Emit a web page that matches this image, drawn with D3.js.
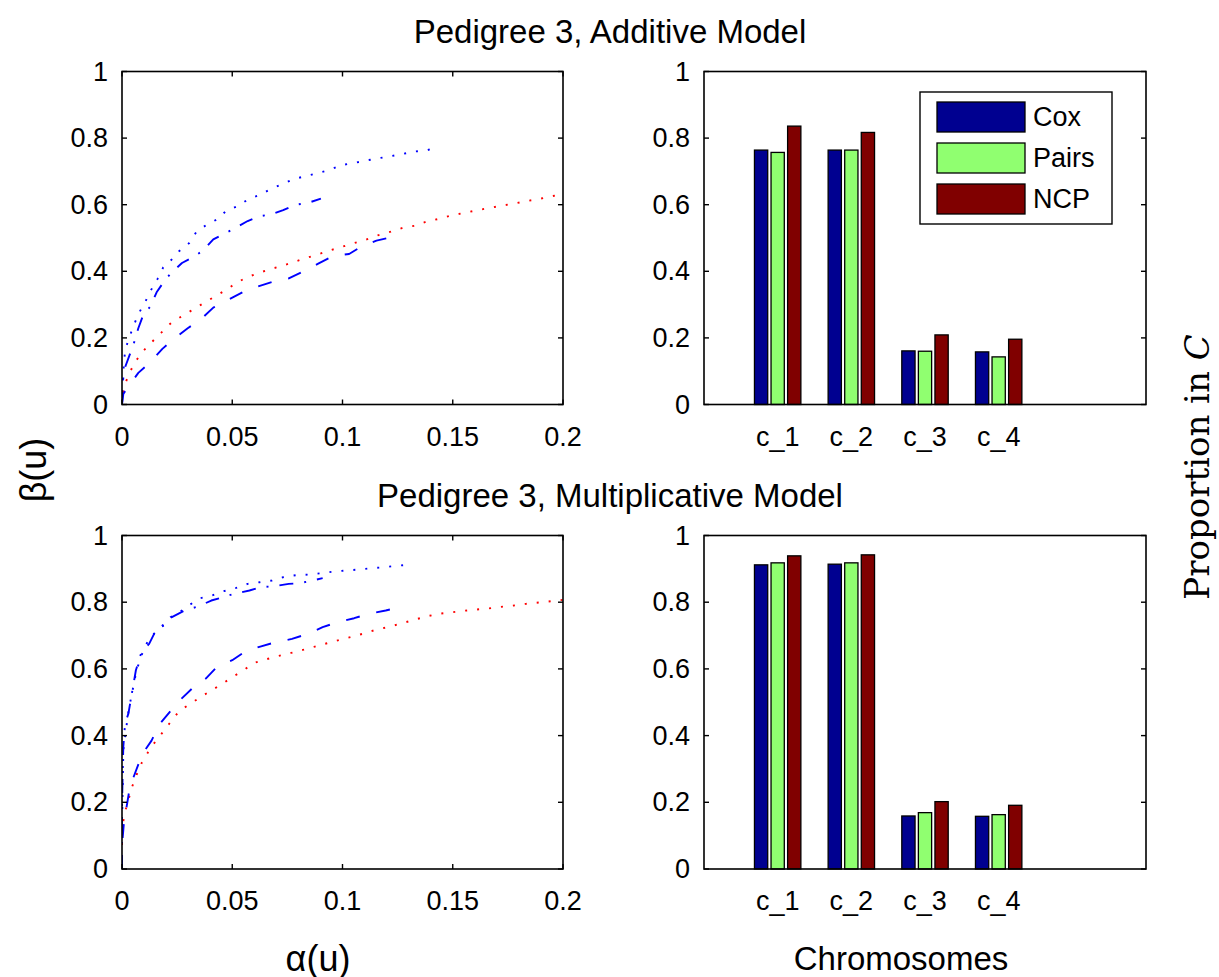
<!DOCTYPE html>
<html>
<head>
<meta charset="utf-8">
<script src="https://cdn.jsdelivr.net/npm/d3@7"></script>
<style>
  html, body { margin: 0; padding: 0; background: #fff; }
  svg { display: block; }
  text { font-family: "Liberation Sans", Arial, Helvetica, sans-serif; fill: #000; }
</style>
</head>
<body>
<svg id="fig" width="1219" height="977"></svg>
<script>
// ---- ROC-style curves: [alpha(u), beta(u)] pairs ----
// Additive model
const addBlueDotted = [[0,0],[0,0.02],[0.0003,0.06],[0.0009,0.127],[0.0015,0.166],[0.0033,0.201],[0.0054,0.239],[0.0077,0.275],[0.0106,0.309],[0.0131,0.343],[0.0162,0.378],[0.0187,0.412],[0.0228,0.437],[0.026,0.461],[0.0305,0.485],[0.0337,0.518],[0.0382,0.539],[0.0434,0.557],[0.0473,0.582],[0.0526,0.596],[0.0574,0.617],[0.0628,0.630],[0.0677,0.648],[0.0728,0.662],[0.0778,0.677],[0.0835,0.686],[0.0887,0.695],[0.094,0.704],[0.0995,0.719],[0.105,0.725],[0.111,0.733],[0.116,0.739],[0.122,0.746],[0.127,0.752],[0.133,0.76],[0.138,0.763],[0.1437,0.774]];
const addBlueDashDot = [[0,0],[0.0006,0.082],[0.0014,0.112],[0.0033,0.146],[0.0054,0.184],[0.0074,0.229],[0.0094,0.265],[0.013,0.296],[0.0157,0.337],[0.0187,0.366],[0.022,0.393],[0.0272,0.425],[0.0323,0.443],[0.0369,0.463],[0.0414,0.496],[0.0465,0.513],[0.0517,0.531],[0.057,0.551],[0.0621,0.565],[0.0678,0.571],[0.0731,0.584],[0.0787,0.600],[0.0841,0.605],[0.0902,0.618]];
const addRedDotted = [[0,0],[0,0.02],[0.0012,0.058],[0.0033,0.094],[0.0062,0.130],[0.0095,0.160],[0.0136,0.188],[0.0177,0.215],[0.0218,0.242],[0.0266,0.263],[0.0314,0.282],[0.0364,0.302],[0.0415,0.322],[0.0464,0.341],[0.051,0.361],[0.0562,0.381],[0.0616,0.394],[0.067,0.406],[0.0725,0.416],[0.078,0.428],[0.0835,0.440],[0.089,0.451],[0.0944,0.463],[0.1,0.474],[0.105,0.484],[0.111,0.496],[0.116,0.508],[0.122,0.519],[0.1275,0.531],[0.133,0.537],[0.138,0.549],[0.144,0.558],[0.1496,0.568],[0.155,0.575],[0.1608,0.583],[0.1664,0.590],[0.172,0.597],[0.1777,0.603],[0.1835,0.611],[0.189,0.617],[0.1946,0.625],[0.2,0.632]];
const addBlueDashed = [[0,0],[0.0006,0.032],[0.0029,0.054],[0.0074,0.095],[0.013,0.128],[0.0183,0.167],[0.0237,0.198],[0.0298,0.229],[0.0356,0.255],[0.0414,0.291],[0.0477,0.313],[0.0547,0.337],[0.061,0.353],[0.0686,0.369],[0.0754,0.378],[0.0826,0.401],[0.089,0.423],[0.0958,0.446],[0.103,0.452],[0.109,0.476],[0.1154,0.492],[0.1207,0.500],[0.126,0.519]];

// Multiplicative model
const mulBlueDotted = [[0,0],[0,0.13],[0.0003,0.237],[0.0006,0.357],[0.003,0.476],[0.0066,0.596],[0.0102,0.666],[0.0133,0.698],[0.0173,0.723],[0.022,0.755],[0.0265,0.772],[0.0309,0.793],[0.0355,0.812],[0.0408,0.820],[0.0462,0.833],[0.0518,0.843],[0.057,0.855],[0.0625,0.860],[0.068,0.865],[0.0736,0.876],[0.079,0.881],[0.0848,0.883],[0.0904,0.887],[0.096,0.892],[0.1017,0.895],[0.1075,0.898],[0.113,0.902],[0.119,0.905],[0.1244,0.909],[0.1306,0.913]];
const mulBlueDashDot = [[0,0],[0,0.05],[0,0.187],[0.0003,0.287],[0.0006,0.367],[0.0014,0.436],[0.0029,0.466],[0.0042,0.516],[0.0063,0.596],[0.0089,0.652],[0.0123,0.675],[0.0157,0.72],[0.019,0.730],[0.021,0.750],[0.029,0.777],[0.0345,0.787],[0.0405,0.805],[0.0458,0.815],[0.0506,0.825],[0.0578,0.835],[0.063,0.845],[0.069,0.848],[0.0756,0.855],[0.0807,0.857],[0.0864,0.865],[0.091,0.872]];
const mulRedDotted = [[0,0],[0,0.053],[0,0.093],[0.0003,0.133],[0.0014,0.172],[0.003,0.209],[0.0045,0.245],[0.0066,0.282],[0.009,0.319],[0.0119,0.351],[0.0152,0.383],[0.0187,0.412],[0.0224,0.444],[0.026,0.474],[0.0309,0.495],[0.0357,0.516],[0.0407,0.536],[0.0456,0.556],[0.0505,0.577],[0.0553,0.597],[0.060,0.618],[0.0655,0.629],[0.071,0.639],[0.0767,0.648],[0.082,0.657],[0.0875,0.667],[0.093,0.677],[0.0986,0.687],[0.104,0.696],[0.1096,0.706],[0.115,0.717],[0.121,0.726],[0.1265,0.736],[0.1324,0.747],[0.1378,0.757],[0.1434,0.765],[0.149,0.769],[0.1547,0.774],[0.1605,0.778],[0.166,0.781],[0.1718,0.786],[0.1776,0.790],[0.1831,0.795],[0.1889,0.799],[0.1945,0.803],[0.2,0.807]];
const mulBlueDashed = [[0,0],[0,0.043],[0.0003,0.093],[0.0009,0.142],[0.0021,0.187],[0.0036,0.247],[0.0059,0.287],[0.0092,0.345],[0.0134,0.385],[0.0169,0.433],[0.0217,0.471],[0.027,0.511],[0.0318,0.541],[0.038,0.571],[0.0428,0.604],[0.05,0.626],[0.0556,0.651],[0.0627,0.667],[0.0691,0.679],[0.0771,0.690],[0.0842,0.705],[0.091,0.725],[0.0977,0.740],[0.1053,0.752],[0.1117,0.765],[0.1196,0.775],[0.1256,0.785]];

// ---- Proportion in C per chromosome ----
const chromosomes = ["c_1", "c_2", "c_3", "c_4"];
const methods = ["Cox", "Pairs", "NCP"];
const addCox   = [0.764, 0.764, 0.161, 0.158];
const addPairs = [0.757, 0.764, 0.160, 0.143];
const addNCP   = [0.836, 0.817, 0.209, 0.196];
const mulCox   = [0.912, 0.914, 0.159, 0.158];
const mulPairs = [0.918, 0.918, 0.169, 0.163];
const mulNCP   = [0.939, 0.942, 0.202, 0.191];

// ---- tick values ----
const alphaTicks = [0, 0.05, 0.1, 0.15, 0.2];
const alphaTickLabels = ["0", "0.05", "0.1", "0.15", "0.2"];
const betaTicks = [0, 0.2, 0.4, 0.6, 0.8, 1];
const betaTickLabels = ["0", "0.2", "0.4", "0.6", "0.8", "1"];
const chromTicks = [1, 2, 3, 4];

const titles = ["Pedigree 3, Additive Model", "Pedigree 3, Multiplicative Model"];

// ---- styling ----
const methodColors = ["#000090", "#90FF70", "#800000"];
const tickFont = 27;
const tickLen = 5;

const svg = d3.select("#fig");

const leftX = [122, 563];
const rightX = [704, 1146];
const rows = [[404.5, 71.5], [869, 535.5]];

function frame(g, x0, x1, y0, y1) {
  g.append("rect")
    .attr("x", x0).attr("y", y1)
    .attr("width", x1 - x0).attr("height", y0 - y1)
    .attr("fill", "none").attr("stroke", "#000").attr("stroke-width", 1.6);
}

function yTicks(g, y, x0, x1) {
  betaTicks.forEach((v, i) => {
    const py = y(v);
    g.append("line").attr("x1", x0).attr("x2", x0 + tickLen).attr("y1", py).attr("y2", py)
      .attr("stroke", "#000").attr("stroke-width", 1.4);
    g.append("line").attr("x1", x1).attr("x2", x1 - tickLen).attr("y1", py).attr("y2", py)
      .attr("stroke", "#000").attr("stroke-width", 1.4);
    g.append("text").attr("x", x0 - 14).attr("y", py)
      .attr("text-anchor", "end").attr("dominant-baseline", "central")
      .attr("font-size", tickFont).text(betaTickLabels[i]);
  });
}

const curveStyles = {
  dotted:  { color: "#0000FF", dash: "2,10" },
  dashdot: { color: "#0000FF", dash: "14,11,2,11" },
  red:     { color: "#FF0000", dash: "2,10" },
  dashed:  { color: "#0000FF", dash: "14,17" }
};

const rocSets = [
  [[addBlueDotted, "dotted"], [addBlueDashDot, "dashdot"], [addRedDotted, "red"], [addBlueDashed, "dashed"]],
  [[mulBlueDotted, "dotted"], [mulBlueDashDot, "dashdot"], [mulRedDotted, "red"], [mulBlueDashed, "dashed"]]
];
const barSets = [
  [addCox, addPairs, addNCP],
  [mulCox, mulPairs, mulNCP]
];

rows.forEach(([y0, y1], r) => {
  const y = d3.scaleLinear().domain([0, 1]).range([y0, y1]);

  // left panel: ROC curves
  const xa = d3.scaleLinear().domain([0, 0.2]).range(leftX);
  const gl = svg.append("g");
  const clipId = "clip" + r;
  svg.append("clipPath").attr("id", clipId).append("rect")
    .attr("x", leftX[0]).attr("y", y1).attr("width", leftX[1] - leftX[0]).attr("height", y0 - y1);
  const line = d3.line().x(d => xa(d[0])).y(d => y(d[1]));
  const gc = gl.append("g").attr("clip-path", `url(#${clipId})`);
  rocSets[r].forEach(([data, style]) => {
    const s = curveStyles[style];
    gc.append("path").attr("d", line(data))
      .attr("fill", "none").attr("stroke", s.color)
      .attr("stroke-width", 1.9).attr("stroke-dasharray", s.dash)
      .attr("stroke-linejoin", "round");
  });
  frame(gl, leftX[0], leftX[1], y0, y1);
  alphaTicks.forEach((v, i) => {
    const px = xa(v);
    gl.append("line").attr("x1", px).attr("x2", px).attr("y1", y0).attr("y2", y0 - tickLen)
      .attr("stroke", "#000").attr("stroke-width", 1.4);
    gl.append("line").attr("x1", px).attr("x2", px).attr("y1", y1).attr("y2", y1 + tickLen)
      .attr("stroke", "#000").attr("stroke-width", 1.4);
    gl.append("text").attr("x", px).attr("y", y0 + 32)
      .attr("text-anchor", "middle").attr("dominant-baseline", "central")
      .attr("font-size", tickFont).text(alphaTickLabels[i]);
  });
  yTicks(gl, y, leftX[0], leftX[1]);

  // right panel: grouped bars
  const xb = d3.scaleLinear().domain([0, 6]).range(rightX);
  const gr = svg.append("g");
  const barW = 0.18, offsets = [-0.225, 0, 0.225];
  barSets[r].forEach((vals, m) => {
    gr.selectAll(null).data(vals).enter().append("rect")
      .attr("x", (d, i) => xb(chromTicks[i] + offsets[m] - barW / 2))
      .attr("width", xb(barW) - xb(0))
      .attr("y", d => y(d))
      .attr("height", d => y(0) - y(d))
      .attr("fill", methodColors[m])
      .attr("stroke", "#000").attr("stroke-width", 1.3);
  });
  frame(gr, rightX[0], rightX[1], y0, y1);
  yTicks(gr, y, rightX[0], rightX[1]);
  chromosomes.forEach((c, i) => {
    gr.append("text").attr("x", xb(chromTicks[i])).attr("y", y0 + 32)
      .attr("text-anchor", "middle").attr("dominant-baseline", "central")
      .attr("font-size", tickFont).text(c);
  });

  // panel title
  svg.append("text").attr("x", 610).attr("y", y1 - 40)
    .attr("text-anchor", "middle").attr("dominant-baseline", "central")
    .attr("font-size", 33).text(titles[r]);
});

// legend in the upper bar panel
const lg = svg.append("g");
lg.append("rect").attr("x", 920).attr("y", 92).attr("width", 192).attr("height", 132)
  .attr("fill", "#fff").attr("stroke", "#000").attr("stroke-width", 1.4);
methods.forEach((name, i) => {
  const top = 102 + i * 41;
  lg.append("rect").attr("x", 937).attr("y", top).attr("width", 88).attr("height", 30)
    .attr("fill", methodColors[i]).attr("stroke", "#000").attr("stroke-width", 1.3);
  lg.append("text").attr("x", 1033).attr("y", top + 15)
    .attr("dominant-baseline", "central").attr("font-size", tickFont).text(name);
});

// axis labels
svg.append("text").attr("transform", "translate(33,470) rotate(-90)")
  .attr("text-anchor", "middle").attr("dominant-baseline", "central")
  .attr("font-size", 36).text("β(u)");
svg.append("text").attr("x", 318).attr("y", 958)
  .attr("text-anchor", "middle").attr("dominant-baseline", "central")
  .attr("font-size", 36).text("α(u)");
svg.append("text").attr("x", 901).attr("y", 958)
  .attr("text-anchor", "middle").attr("dominant-baseline", "central")
  .attr("font-size", 33).text("Chromosomes");
const rl = svg.append("text").attr("transform", "translate(1209,467) rotate(-90)")
  .attr("text-anchor", "middle")
  .style("font-family", "'DejaVu Serif', 'Liberation Serif', serif")
  .style("font-weight", "300")
  .attr("font-size", 34);
rl.append("tspan").text("Proportion in ");
rl.append("tspan").attr("font-style", "italic").text("C");
</script>
</body>
</html>
